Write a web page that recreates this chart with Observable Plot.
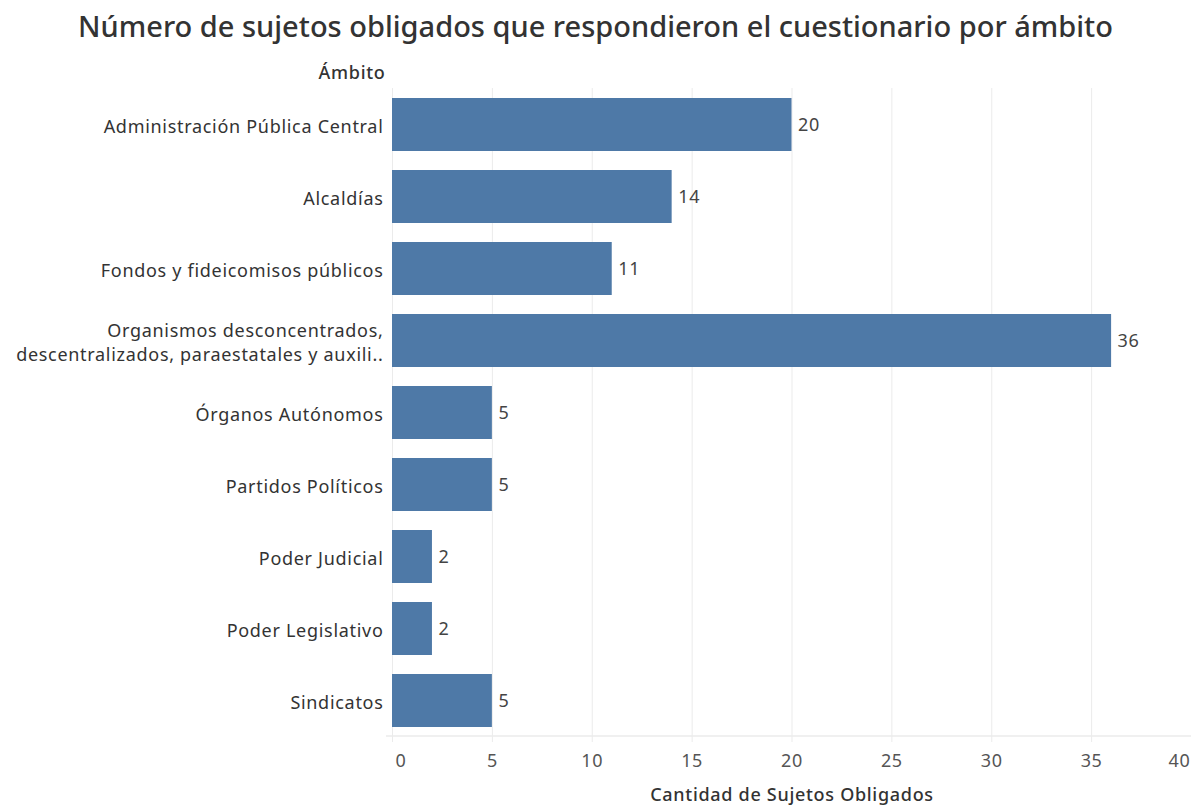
<!DOCTYPE html>
<html>
<head>
<meta charset="utf-8">
<script src="https://cdn.jsdelivr.net/npm/d3@7"></script>
<script src="https://cdn.jsdelivr.net/npm/@observablehq/plot@0.6"></script>
<style>
  html, body { margin: 0; padding: 0; background: #fff; }
  #title { height: 55px; line-height: 52px; text-align: center; font-family: "Noto Sans", sans-serif; font-size: 29px; color: #333; font-weight: 500; white-space: nowrap; }
  #chart svg { display: block; }
  #chart svg text { letter-spacing: 0.7px; }
</style>
</head>
<body>
<div id="title">Número de sujetos obligados que respondieron el cuestionario por ámbito</div>
<div id="chart"></div>
<script>
const categories = [
  "Administración Pública Central",
  "Alcaldías",
  "Fondos y fideicomisos públicos",
  "Organismos desconcentrados,\ndescentralizados, paraestatales y auxili..",
  "Órganos Autónomos",
  "Partidos Políticos",
  "Poder Judicial",
  "Poder Legislativo",
  "Sindicatos"
];
const values = [20, 14, 11, 36, 5, 5, 2, 2, 5];
const xTicks = [0, 5, 10, 15, 20, 25, 30, 35, 40];

const data = categories.map((c, i) => ({ambito: c, value: values[i]}));
const font = "Noto Sans, sans-serif";
const fs = 18;

const chart = Plot.plot({
  width: 1191,
  height: 752,
  marginLeft: 392,
  marginRight: 0,
  marginTop: 33,
  marginBottom: 71,
  style: { fontFamily: font, fontSize: fs + "px", color: "#555", background: "#fff" },
  x: { domain: [0, 40], ticks: xTicks },
  y: { domain: categories, paddingInner: 0.266, paddingOuter: 0.118, align: 0.5 },
  marks: [
    Plot.gridX(xTicks, { stroke: "#ebebeb", strokeOpacity: 1 }),
    Plot.barX(data, { x: "value", y: "ambito", fill: "#4e79a7" }),
    Plot.text(data, { x: "value", y: "ambito", text: d => String(d.value), textAnchor: "start", dx: 6, fill: "#444", fontSize: fs }),
    Plot.axisX(xTicks, { tickSize: 6, stroke: "#ebebeb", text: null, label: null }),
    Plot.axisX([0], { tickSize: 0, tickPadding: 18, fill: "#555", fontSize: fs, label: null, textAnchor: "start", dx: 3, tickFormat: d => String(d) }),
    Plot.axisX(xTicks.slice(1, -1), { tickSize: 0, tickPadding: 18, fill: "#555", fontSize: fs, label: null, tickFormat: d => String(d) }),
    Plot.axisX([40], { tickSize: 0, tickPadding: 18, fill: "#555", fontSize: fs, label: null, textAnchor: "end", dx: -1, tickFormat: d => String(d) }),
    Plot.axisY({ tickSize: 0, tickPadding: 9, fill: "#333", fontSize: fs, label: null, lineHeight: 1.35 }),
    Plot.text(["Ámbito"], { frameAnchor: "top-left", dx: -7, dy: -15, textAnchor: "end", lineAnchor: "middle", fill: "#333", fontSize: fs, fontWeight: 500 }),
    Plot.text(["Cantidad de Sujetos Obligados"], { frameAnchor: "bottom", dy: 59, lineAnchor: "middle", fill: "#333", fontSize: fs, fontWeight: 500 })
  ]
});

// horizontal axis baseline at the bottom of the band range
const ys = chart.scale("y");
const xs = chart.scale("x");
const yBottom = ys.range[1];
d3.select(chart).append("line")
  .attr("x1", xs.apply(0) - 6).attr("x2", xs.apply(40))
  .attr("y1", yBottom).attr("y2", yBottom)
  .attr("stroke", "#ebebeb").attr("stroke-width", 1.5);

document.getElementById("chart").appendChild(chart);
</script>
</body>
</html>
